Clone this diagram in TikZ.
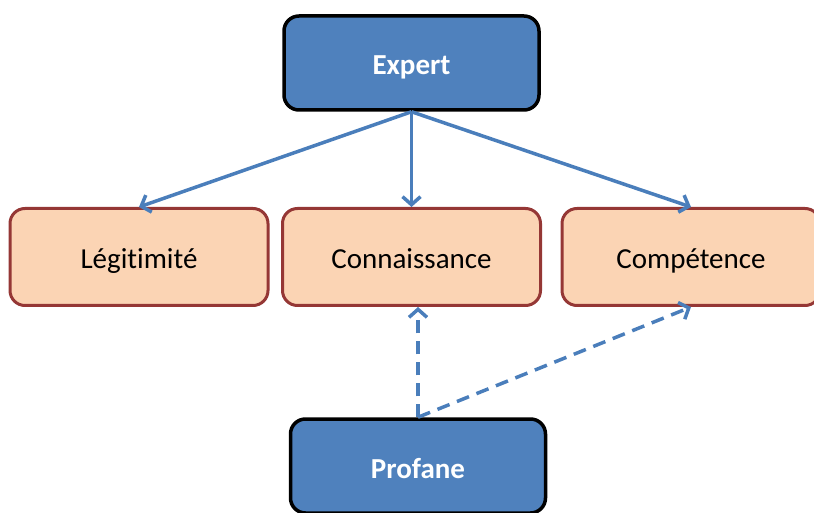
\documentclass[tikz,border=0pt]{standalone}
\usepackage{fontspec}
\setmainfont{Carlito}[Ligatures={NoCommon}]
\usetikzlibrary{arrows.meta}
\definecolor{boxblue}{HTML}{4F81BD}
\definecolor{linkblue}{HTML}{4A7EBB}
\definecolor{peach}{HTML}{FBD4B4}
\definecolor{brick}{HTML}{953735}
\begin{document}
\begin{tikzpicture}[x=1pt,y=1pt,
  actor/.style={draw=black,line width=3.5pt,fill=boxblue,rounded corners=15pt,
    minimum width=255pt,minimum height=94pt,text=white,
    text height=27pt,text depth=3pt,
    font=\fontsize{29}{34}\selectfont\bfseries,inner sep=0pt},
  quality/.style={draw=brick,line width=3pt,fill=peach,rounded corners=15pt,
    minimum width=258pt,minimum height=97pt,text=black,
    text height=27pt,text depth=3pt,
    font=\fontsize{29}{34}\selectfont,inner sep=0pt},
  link/.style={draw=linkblue,line width=3.5pt,-{Straight Barb[length=8pt,width=18pt,line width=3.5pt]}},
  dlink/.style={link,dash pattern=on 13pt off 8pt}]
\useasboundingbox (0,0) rectangle (814,512);
\node[actor] (expert) at (411.5,449) {Expert};
\node[quality] (leg) at (139,255) {Légitimité};
\node[quality] (con) at (411.5,255) {Connaissance};
\node[quality] (comp) at (691,255) {Compétence};
\node[actor] (prof) at (418,46) {Profane};
\draw[link] (expert.south) -- (leg.north);
\draw[link] (expert.south) -- (con.north);
\draw[link] (expert.south) -- (comp.north);
\draw[dlink] (prof.north) -- (prof.north |- con.south);
\draw[dlink] (prof.north) -- (comp.south);
\end{tikzpicture}
\end{document}
